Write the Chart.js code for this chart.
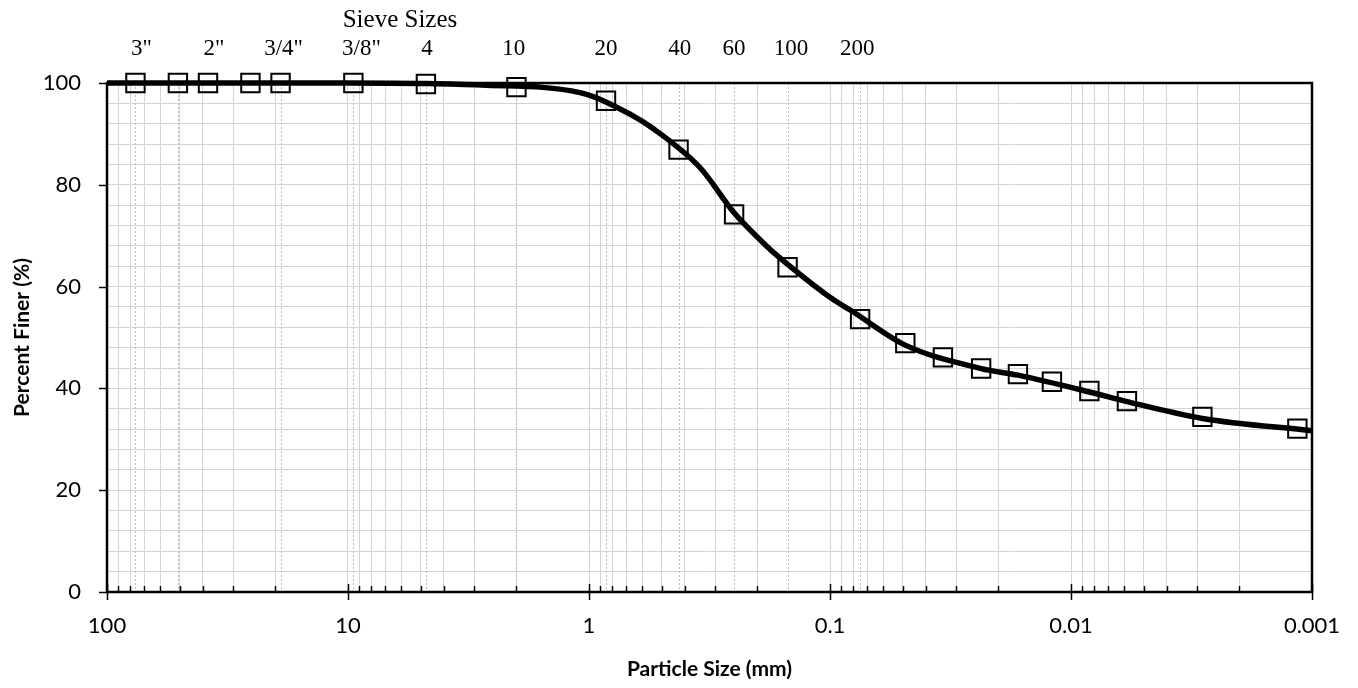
<!DOCTYPE html>
<html>
<head>
<meta charset="utf-8">
<title>Grain Size Distribution</title>
<script src="https://cdn.jsdelivr.net/npm/chart.js@4.4.1/dist/chart.umd.min.js"></script>
<style>
  html, body { margin: 0; padding: 0; background: #ffffff; }
</style>
</head>
<body>
<canvas id="gradation" width="1358" height="688"></canvas>
<script>
// sieve + hydrometer results (particle size in mm, percent passing)
const sampleMm = [76.2, 50.8, 38.1, 25.4, 19.05, 9.5, 4.75, 2.0, 0.85, 0.425, 0.25, 0.15, 0.075,
  0.0487, 0.034, 0.0236, 0.0166, 0.012, 0.00839, 0.00586, 0.00285, 0.00115];
const samplePassing = [100, 100, 100, 100, 100, 100, 99.8, 99.2, 96.5, 86.9, 74.2, 63.8, 53.6,
  48.9, 46.1, 43.9, 42.8, 41.3, 39.5, 37.5, 34.4, 32.1];

// fitted gradation curve
const curveMm = [100, 20, 10, 4.75, 2.8, 1.09, 0.67, 0.54, 0.345, 0.25, 0.1826, 0.161, 0.0966,
  0.0824, 0.0487, 0.0236, 0.0166, 0.00839, 0.00586, 0.00285, 0.001];
const curvePassing = [100, 100, 100, 99.9, 99.6, 98.1, 93.8, 91.0, 83.3, 74.5, 67.9, 65.6, 57.4,
  55.4, 48.5, 43.9, 42.6, 39.3, 37.4, 34.1, 31.7];

// sieve designations, their openings (mm) and where each name sits along the axis
const sieveNames = ['3"', '2"', '3/4"', '3/8"', "4", "10", "20", "40", "60", "100", "200"];
const sieveMm = [76.2, 50.8, 19.05, 9.5, 4.75, 2.0, 0.85, 0.425, 0.25, 0.15, 0.075];
const sieveLabelMm = [72, 36, 18.5, 8.8, 4.7, 2.05, 0.85, 0.42, 0.25, 0.145, 0.077];

const decadeLabels = { 100: "100", 10: "10", 1: "1", 0.1: "0.1", 0.01: "0.01", 0.001: "0.001" };

const gridColor = "#d4d4d4";
const axisFont = "Lato";

const sieveOverlay = {
  id: "sieveOverlay",
  beforeDatasetsDraw(chart) {
    const { ctx, chartArea: a, scales: { x, y } } = chart;
    ctx.save();

    // dotted lines at each labelled sieve
    ctx.strokeStyle = "#bdbdbd";
    ctx.lineWidth = 1;
    ctx.setLineDash([2, 2]);
    sieveMm.forEach((mm) => {
      const px = Math.round(x.getPixelForValue(mm)) + 0.5;
      ctx.beginPath();
      ctx.moveTo(px, a.top);
      ctx.lineTo(px, a.bottom);
      ctx.stroke();
    });
    ctx.setLineDash([]);

    // plot frame
    ctx.strokeStyle = "#000";
    ctx.lineWidth = 2.5;
    ctx.strokeRect(a.left, a.top, a.right - a.left, a.bottom - a.top);

    // tick marks: minor ones point inward, decades cross the axis
    ctx.lineWidth = 1.5;
    x.ticks.forEach((t) => {
      const px = Math.round(x.getPixelForValue(t.value)) + 0.5;
      const major = decadeLabels[t.value] !== undefined;
      ctx.beginPath();
      ctx.moveTo(px, major ? a.bottom - 8 : a.bottom - 6);
      ctx.lineTo(px, major ? a.bottom + 8 : a.bottom);
      ctx.stroke();
    });
    y.ticks.forEach((t) => {
      if (t.value % 20 !== 0) return;
      const py = Math.round(y.getPixelForValue(t.value)) + 0.5;
      ctx.beginPath();
      ctx.moveTo(a.left - 8, py);
      ctx.lineTo(a.left, py);
      ctx.stroke();
    });
    ctx.restore();
  },
  afterDraw(chart) {
    const { ctx, chartArea: a, scales: { x } } = chart;
    ctx.save();
    ctx.fillStyle = "#000";
    ctx.textAlign = "center";
    ctx.textBaseline = "alphabetic";
    ctx.font = '25px "Liberation Serif", "Times New Roman", serif';
    ctx.fillText("Sieve Sizes", a.left + 293, 27);
    ctx.font = '23px "Liberation Serif", "Times New Roman", serif';
    sieveNames.forEach((name, i) => {
      ctx.fillText(name, x.getPixelForValue(sieveLabelMm[i]), 55);
    });
    ctx.restore();
  },
};

new Chart(document.getElementById("gradation"), {
  type: "line",
  plugins: [sieveOverlay],
  data: {
    datasets: [
      {
        label: "Gradation curve",
        data: curveMm.map((mm, i) => ({ x: mm, y: curvePassing[i] })),
        borderColor: "#000",
        borderWidth: 5.5,
        pointRadius: 0,
        cubicInterpolationMode: "monotone",
        fill: false,
        clip: false,
        order: 2,
      },
      {
        label: "Test results",
        data: sampleMm.map((mm, i) => ({ x: mm, y: samplePassing[i] })),
        showLine: false,
        pointStyle: "rect",
        pointRadius: 13,
        pointBorderWidth: 2,
        pointBorderColor: "#000",
        pointBackgroundColor: "rgba(255,255,255,0)",
        clip: false,
        order: 1,
      },
    ],
  },
  options: {
    responsive: false,
    devicePixelRatio: 1,
    animation: false,
    layout: { padding: { top: 83, right: 46, left: 0, bottom: 0 } },
    plugins: {
      legend: { display: false },
      tooltip: { enabled: false },
    },
    scales: {
      x: {
        type: "logarithmic",
        reverse: true,
        min: 0.001,
        max: 100,
        afterFit: (s) => { s.height = 96; },
        afterBuildTicks: (s) => {
          const ticks = [];
          for (let e = -3; e <= 1; e++) {
            for (let k = 1; k <= 9; k++) ticks.push({ value: +(k * Math.pow(10, e)).toPrecision(3) });
          }
          ticks.push({ value: 100 });
          s.ticks = ticks;
        },
        grid: { color: gridColor, lineWidth: 1, drawTicks: false },
        border: { display: false },
        ticks: {
          autoSkip: false,
          maxRotation: 0,
          padding: 21,
          color: "#000",
          font: { family: axisFont, size: 22 },
          callback: (v) => decadeLabels[v] || "",
        },
        title: {
          display: true,
          text: "Particle Size (mm)",
          color: "#000",
          font: { family: axisFont, size: 21, weight: "bold" },
          padding: { top: 0, bottom: 6 },
        },
      },
      y: {
        min: 0,
        max: 100,
        afterFit: (s) => { s.width = 107; },
        grid: { color: gridColor, lineWidth: 1, drawTicks: false },
        border: { display: false },
        ticks: {
          stepSize: 4,
          autoSkip: false,
          padding: 26,
          color: "#000",
          font: { family: axisFont, size: 22 },
          callback: (v) => (v % 20 === 0 ? v : ""),
        },
        title: {
          display: true,
          text: "Percent Finer (%)",
          color: "#000",
          font: { family: axisFont, size: 21, weight: "bold" },
          padding: { top: 10, bottom: 0 },
        },
      },
    },
  },
});
</script>
</body>
</html>
